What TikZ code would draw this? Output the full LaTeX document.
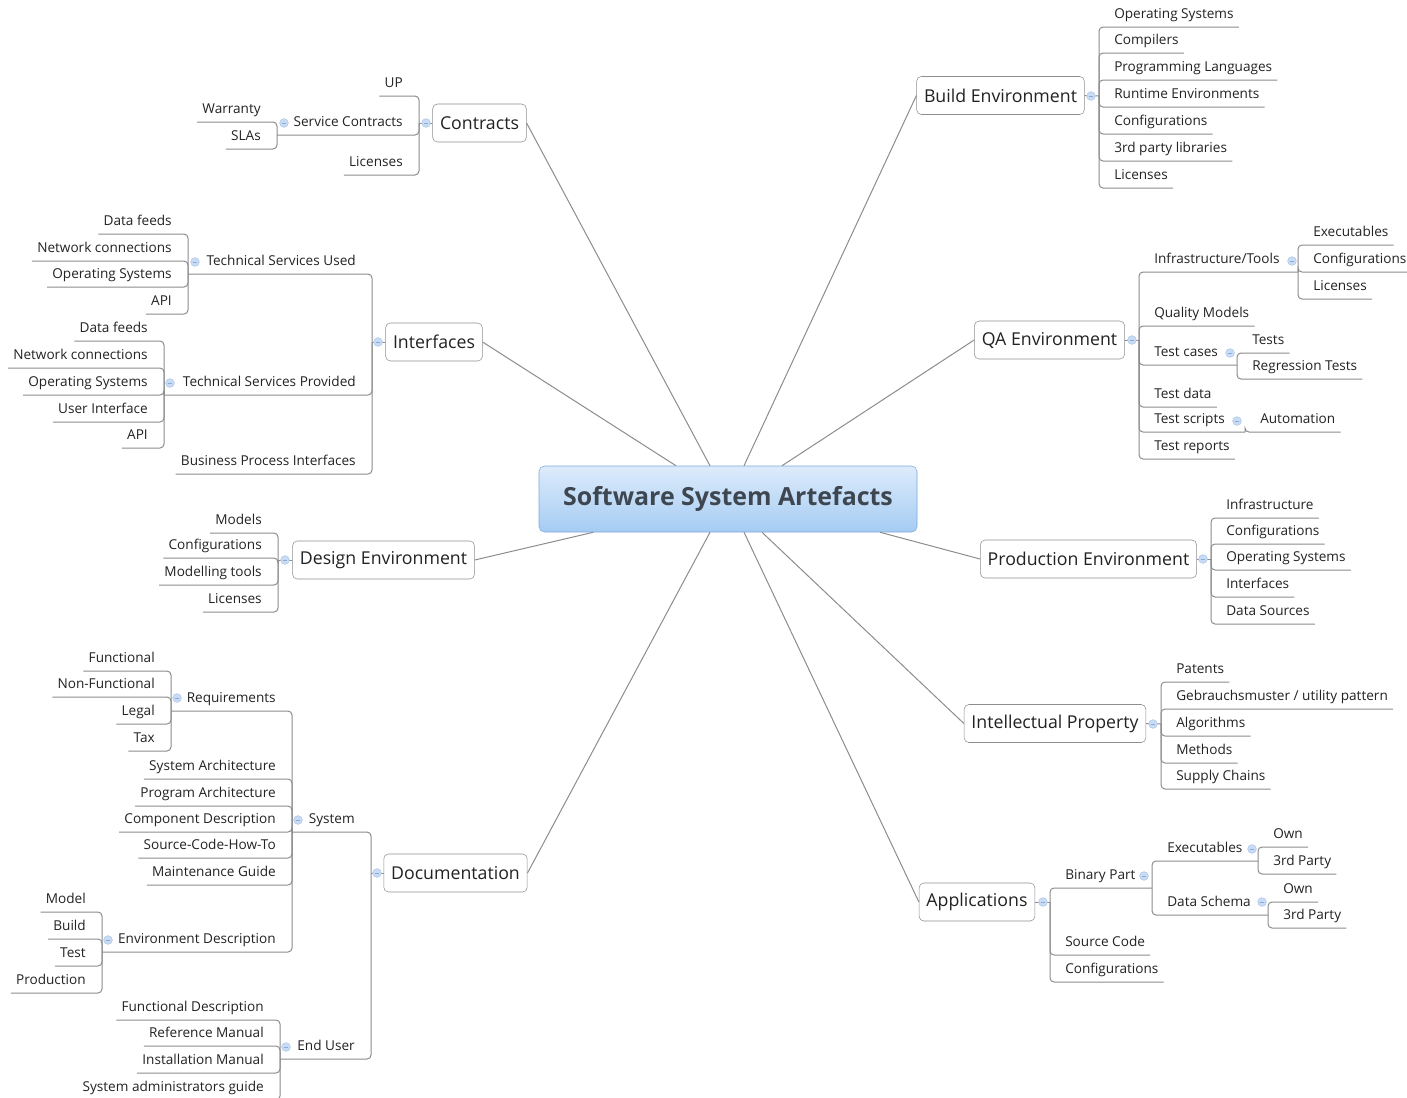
\documentclass[tikz,border=0pt]{standalone}
\usepackage{fontspec}
\setmainfont{Open Sans}
\usetikzlibrary{positioning}
\definecolor{linegray}{HTML}{8C8C8C}
\definecolor{boxgray}{HTML}{8E8E8E}
\definecolor{textgray}{HTML}{222222}
\definecolor{centraltext}{HTML}{3E4650}
\definecolor{centraldraw}{HTML}{7FA9DA}
\definecolor{centraltop}{HTML}{DDEBFB}
\definecolor{centralbottom}{HTML}{A5CCF3}
\definecolor{foldfill}{HTML}{CADCF4}
\definecolor{folddraw}{HTML}{A9C5EA}
\definecolor{foldminus}{HTML}{8AAAD8}

\begin{document}
\begin{tikzpicture}[x=0.75pt, y=-0.75pt,
centralnode/.style={rectangle, rounded corners=4pt, draw=centraldraw, top color=centraltop, bottom color=centralbottom, minimum width=283.5pt, minimum height=49.5pt, text=centraltext, font=\fontsize{18.7}{22}\selectfont\bfseries},
topicnode/.style={rectangle, rounded corners=3.5pt, draw=boxgray, fill=white, minimum height=28.5pt, inner xsep=5.5pt, text=textgray, font=\fontsize{13.3}{16}\selectfont},
leafnode/.style={inner xsep=3.75pt, inner ysep=1.5pt, text height=8pt, text depth=4.5pt, text=textgray, font=\fontsize{10.2}{12}\selectfont},
rightleaf/.style={leafnode, anchor=south west, xshift=7.5pt},
leftleaf/.style={leafnode, anchor=south east, xshift=-8.25pt},
foldnode/.style={circle, draw=folddraw, fill=foldfill, minimum size=6.5pt, inner sep=0pt, line width=0.4pt,
  path picture={\draw[foldminus, line width=0.6pt] ([xshift=-1.7pt]path picture bounding box.center) -- ([xshift=1.7pt]path picture bounding box.center);}},
spoke/.style={draw=linegray, line width=0.75pt},
branch/.style={draw=linegray, line width=0.75pt, rounded corners=3pt},
]
\useasboundingbox (0,0) rectangle (1407,1097);

%Central topic
\node[centralnode] (sw) at (728,499) {Software System Artefacts};

%Contracts
\node[topicnode] (contracts) at (479.5,123) {Contracts};
\coordinate (contractshub) at (419,123);
\node[leftleaf] (ctup) at (419,96) {UP};
\node[leftleaf] (ctsc) at (419,135) {Service Contracts};
\coordinate (ctschub) at (277,135);
\node[leftleaf] (ctwarranty) at (277,122) {Warranty};
\node[leftleaf] (ctslas) at (277,149) {SLAs};
\node[leftleaf] (ctlic) at (419,175) {Licenses};

%Build Environment
\node[topicnode] (build) at (1000.5,95.5) {Build Environment};
\coordinate (buildhub) at (1099,96);
\node[rightleaf] (bdos) at (1099,27) {Operating Systems};
\node[rightleaf] (bdcomp) at (1099,53) {Compilers};
\node[rightleaf] (bdlang) at (1099,80) {Programming Languages};
\node[rightleaf] (bdrun) at (1099,107) {Runtime Environments};
\node[rightleaf] (bdconf) at (1099,134) {Configurations};
\node[rightleaf] (bdlib) at (1099,161) {3rd party libraries};
\node[rightleaf] (bdlic) at (1099,188) {Licenses};

%Interfaces
\node[topicnode] (interfaces) at (434,342) {Interfaces};
\coordinate (interfaceshub) at (372,342);
\node[leftleaf] (tsused) at (372,274) {Technical Services Used};
\coordinate (tsusedhub) at (188,274);
\node[leftleaf] (tufeeds) at (188,234) {Data feeds};
\node[leftleaf] (tunet) at (188,261) {Network connections};
\node[leftleaf] (tuos) at (188,287) {Operating Systems};
\node[leftleaf] (tuapi) at (188,314) {API};
\node[leftleaf] (tsprov) at (372,395) {Technical Services Provided};
\coordinate (tsprovhub) at (164,395);
\node[leftleaf] (tpfeeds) at (164,341) {Data feeds};
\node[leftleaf] (tpnet) at (164,368) {Network connections};
\node[leftleaf] (tpos) at (164,395) {Operating Systems};
\node[leftleaf] (tpui) at (164,422) {User Interface};
\node[leftleaf] (tpapi) at (164,448) {API};
\node[leftleaf] (bpi) at (372,474) {Business Process Interfaces};

%Design Environment
\node[topicnode] (design) at (383.5,560) {Design Environment};
\coordinate (designhub) at (278,560);
\node[leftleaf] (dgmodels) at (278,533) {Models};
\node[leftleaf] (dgconf) at (278,558) {Configurations};
\node[leftleaf] (dgtools) at (278,585) {Modelling tools};
\node[leftleaf] (dglic) at (278,612) {Licenses};

%Documentation
\node[topicnode] (docu) at (455.5,873) {Documentation};
\coordinate (docuhub) at (371,873);
\node[leftleaf] (system) at (371,832) {System};
\coordinate (systemhub) at (292,832);
\node[leftleaf] (reqs) at (292,711) {Requirements};
\coordinate (reqshub) at (171,711);
\node[leftleaf] (rqfun) at (171,671) {Functional};
\node[leftleaf] (rqnonfun) at (171,697) {Non-Functional};
\node[leftleaf] (rqlegal) at (171,724) {Legal};
\node[leftleaf] (rqtax) at (171,751) {Tax};
\node[leftleaf] (sysarch) at (292,779) {System Architecture};
\node[leftleaf] (progarch) at (292,806) {Program Architecture};
\node[leftleaf] (compdesc) at (292,832) {Component Description};
\node[leftleaf] (howto) at (292,858) {Source-Code-How-To};
\node[leftleaf] (maint) at (292,885) {Maintenance Guide};
\node[leftleaf] (envdesc) at (292,952) {Environment Description};
\coordinate (envdeschub) at (102,952);
\node[leftleaf] (envmodel) at (102,912) {Model};
\node[leftleaf] (envbuild) at (102,939) {Build};
\node[leftleaf] (envtest) at (102,966) {Test};
\node[leftleaf] (envprod) at (102,993) {Production};
\node[leftleaf] (enduser) at (371,1059) {End User};
\coordinate (enduserhub) at (280,1059);
\node[leftleaf] (eufun) at (280,1020) {Functional Description};
\node[leftleaf] (euref) at (280,1046) {Reference Manual};
\node[leftleaf] (euinst) at (280,1073) {Installation Manual};
\node[leftleaf] (euadmin) at (280,1100) {System administrators guide};

%QA Environment
\node[topicnode] (qa) at (1049.5,340) {QA Environment};
\coordinate (qahub) at (1139,340);
\node[rightleaf] (infratools) at (1139,272) {Infrastructure/Tools};
\coordinate (infratoolshub) at (1298,272);
\node[rightleaf] (itexe) at (1298,245) {Executables};
\node[rightleaf] (itconf) at (1298,272) {Configurations};
\node[rightleaf] (itlic) at (1298,299) {Licenses};
\node[rightleaf] (qamodels) at (1139,326) {Quality Models};
\node[rightleaf] (testcases) at (1139,365) {Test cases};
\coordinate (testcaseshub) at (1237,365);
\node[rightleaf] (tctests) at (1237,353) {Tests};
\node[rightleaf] (tcreg) at (1237,379) {Regression Tests};
\node[rightleaf] (testdata) at (1139,407) {Test data};
\node[rightleaf] (testscripts) at (1139,432) {Test scripts};
\coordinate (testscriptshub) at (1245,432);
\node[rightleaf] (automation) at (1245,432) {Automation};
\node[rightleaf] (testreports) at (1139,459) {Test reports};

%Production Environment
\node[topicnode] (prod) at (1088.5,559) {Production Environment};
\coordinate (prodhub) at (1211,559);
\node[rightleaf] (prinfra) at (1211,518) {Infrastructure};
\node[rightleaf] (prconf) at (1211,544) {Configurations};
\node[rightleaf] (pros) at (1211,570) {Operating Systems};
\node[rightleaf] (prif) at (1211,597) {Interfaces};
\node[rightleaf] (prdata) at (1211,624) {Data Sources};

%Intellectual Property
\node[topicnode] (ip) at (1055,723.5) {Intellectual Property};
\coordinate (iphub) at (1161,724);
\node[rightleaf] (ippat) at (1161,682) {Patents};
\node[rightleaf] (ipgeb) at (1161,709) {Gebrauchsmuster / utility pattern};
\node[rightleaf] (ipalg) at (1161,736) {Algorithms};
\node[rightleaf] (ipmeth) at (1161,763) {Methods};
\node[rightleaf] (ipsupply) at (1161,789) {Supply Chains};

%Applications
\node[topicnode] (apps) at (977,902) {Applications};
\coordinate (appshub) at (1050,902);
\node[rightleaf] (binary) at (1050,888) {Binary Part};
\coordinate (binaryhub) at (1152,888);
\node[rightleaf] (executables) at (1152,861) {Executables};
\coordinate (executableshub) at (1258,861);
\node[rightleaf] (exown) at (1258,847) {Own};
\node[rightleaf] (exthird) at (1258,874) {3rd Party};
\node[rightleaf] (dataschema) at (1152,915) {Data Schema};
\coordinate (dataschemahub) at (1268,915);
\node[rightleaf] (dsown) at (1268,902) {Own};
\node[rightleaf] (dsthird) at (1268,928) {3rd Party};
\node[rightleaf] (srccode) at (1050,955) {Source Code};
\node[rightleaf] (apconf) at (1050,982) {Configurations};

%Spokes
\draw[spoke] ([xshift=-13.5pt]sw.north) -- (contracts.east);
\draw[spoke] ([xshift=12pt]sw.north) -- (build.west);
\draw[spoke] ([xshift=-39pt]sw.north) -- (interfaces.east);
\draw[spoke] ([xshift=40.5pt]sw.north) -- (qa.west);
\draw[spoke] ([xshift=-101pt]sw.south) -- (design.east);
\draw[spoke] ([xshift=114pt]sw.south) -- (prod.west);
\draw[spoke] ([xshift=25.5pt]sw.south) -- (ip.west);
\draw[spoke] ([xshift=12pt]sw.south) -- (apps.west);
\draw[spoke] ([xshift=-13.5pt]sw.south) -- (docu.east);

%Branches on the left
\draw[branch] (contracts.west) -- (contractshub);
\draw[branch] (interfaces.west) -- (interfaceshub);
\draw[branch] (design.west) -- (designhub);
\draw[branch] (docu.west) -- (docuhub);
\draw[branch] (contractshub) |- (ctsc.south east) -- (ctschub);
\draw[branch] (interfaceshub) |- (tsused.south east) -- (tsusedhub);
\draw[branch] (interfaceshub) |- (tsprov.south east) -- (tsprovhub);
\draw[branch] (docuhub) |- (system.south east) -- (systemhub);
\draw[branch] (docuhub) |- (enduser.south east) -- (enduserhub);
\draw[branch] (systemhub) |- (reqs.south east) -- (reqshub);
\draw[branch] (systemhub) |- (envdesc.south east) -- (envdeschub);
\foreach \n in {ctup,ctlic} \draw[branch] (contractshub) |- (\n.south east) -- (\n.south west);
\foreach \n in {ctwarranty,ctslas} \draw[branch] (ctschub) |- (\n.south east) -- (\n.south west);
\foreach \n in {bpi} \draw[branch] (interfaceshub) |- (\n.south east) -- (\n.south west);
\foreach \n in {tufeeds,tunet,tuos,tuapi} \draw[branch] (tsusedhub) |- (\n.south east) -- (\n.south west);
\foreach \n in {tpfeeds,tpnet,tpos,tpui,tpapi} \draw[branch] (tsprovhub) |- (\n.south east) -- (\n.south west);
\foreach \n in {dgmodels,dgconf,dgtools,dglic} \draw[branch] (designhub) |- (\n.south east) -- (\n.south west);
\foreach \n in {sysarch,progarch,compdesc,howto,maint} \draw[branch] (systemhub) |- (\n.south east) -- (\n.south west);
\foreach \n in {rqfun,rqnonfun,rqlegal,rqtax} \draw[branch] (reqshub) |- (\n.south east) -- (\n.south west);
\foreach \n in {envmodel,envbuild,envtest,envprod} \draw[branch] (envdeschub) |- (\n.south east) -- (\n.south west);
\foreach \n in {eufun,euref,euinst,euadmin} \draw[branch] (enduserhub) |- (\n.south east) -- (\n.south west);

%Branches on the right
\draw[branch] (build.east) -- (buildhub);
\draw[branch] (qa.east) -- (qahub);
\draw[branch] (prod.east) -- (prodhub);
\draw[branch] (ip.east) -- (iphub);
\draw[branch] (apps.east) -- (appshub);
\draw[branch] (qahub) |- (infratools.south west) -- (infratoolshub);
\draw[branch] (qahub) |- (testcases.south west) -- (testcaseshub);
\draw[branch] (qahub) |- (testscripts.south west) -- (testscriptshub);
\draw[branch] (appshub) |- (binary.south west) -- (binaryhub);
\draw[branch] (binaryhub) |- (executables.south west) -- (executableshub);
\draw[branch] (binaryhub) |- (dataschema.south west) -- (dataschemahub);
\foreach \n in {bdos,bdcomp,bdlang,bdrun,bdconf,bdlib,bdlic} \draw[branch] (buildhub) |- (\n.south west) -- (\n.south east);
\foreach \n in {qamodels,testdata,testreports} \draw[branch] (qahub) |- (\n.south west) -- (\n.south east);
\foreach \n in {itexe,itconf,itlic} \draw[branch] (infratoolshub) |- (\n.south west) -- (\n.south east);
\foreach \n in {tctests,tcreg} \draw[branch] (testcaseshub) |- (\n.south west) -- (\n.south east);
\foreach \n in {automation} \draw[branch] (testscriptshub) |- (\n.south west) -- (\n.south east);
\foreach \n in {prinfra,prconf,pros,prif,prdata} \draw[branch] (prodhub) |- (\n.south west) -- (\n.south east);
\foreach \n in {ippat,ipgeb,ipalg,ipmeth,ipsupply} \draw[branch] (iphub) |- (\n.south west) -- (\n.south east);
\foreach \n in {srccode,apconf} \draw[branch] (appshub) |- (\n.south west) -- (\n.south east);
\foreach \n in {exown,exthird} \draw[branch] (executableshub) |- (\n.south west) -- (\n.south east);
\foreach \n in {dsown,dsthird} \draw[branch] (dataschemahub) |- (\n.south west) -- (\n.south east);

%Fold markers
\node[foldnode] (contractsfold) at (426,123) {};
\node[foldnode] (ctscfold) at (284,123) {};
\node[foldnode] (buildfold) at (1091,96) {};
\node[foldnode] (interfacesfold) at (378,342) {};
\node[foldnode] (tsusedfold) at (195,262) {};
\node[foldnode] (tsprovfold) at (170,383) {};
\node[foldnode] (designfold) at (285,560) {};
\node[foldnode] (docufold) at (377,873) {};
\node[foldnode] (systemfold) at (298,820) {};
\node[foldnode] (reqsfold) at (177,698) {};
\node[foldnode] (envdescfold) at (108,940) {};
\node[foldnode] (enduserfold) at (286,1047) {};
\node[foldnode] (qafold) at (1132,340) {};
\node[foldnode] (infratoolsfold) at (1292,261) {};
\node[foldnode] (testcasesfold) at (1230,353) {};
\node[foldnode] (testscriptsfold) at (1237,421) {};
\node[foldnode] (prodfold) at (1203,559) {};
\node[foldnode] (ipfold) at (1153,724) {};
\node[foldnode] (appsfold) at (1043,902) {};
\node[foldnode] (binaryfold) at (1144,876) {};
\node[foldnode] (executablesfold) at (1252,849) {};
\node[foldnode] (dataschemafold) at (1262,902) {};
\end{tikzpicture}
\end{document}
